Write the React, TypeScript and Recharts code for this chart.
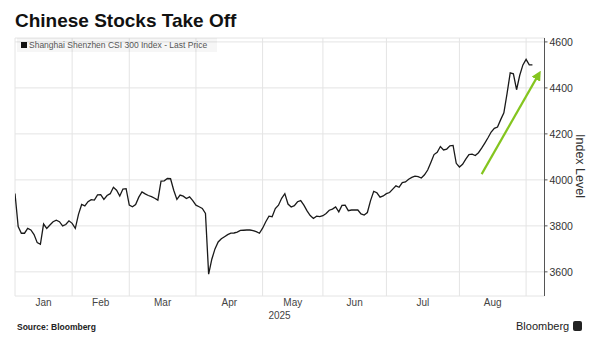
import React from 'react';
import { LineChart, Line, XAxis, YAxis, CartesianGrid, ReferenceLine } from 'recharts';

// CSI 300 daily closes, one per trading day (day 0 = last close of 2024)
const closes: number[] = [
  3941, 3797, 3768, 3768, 3789, 3782, 3762, 3727, 3720, 3808,
  3789, 3804, 3818, 3825, 3818, 3800, 3806, 3822, 3811, 3789,
  3850, 3893, 3887, 3905, 3914, 3912, 3935, 3936, 3915, 3932,
  3940, 3968, 3955, 3930, 3960, 3962, 3890, 3883, 3893, 3925,
  3948, 3939, 3932, 3927, 3920, 3912, 3995, 3996, 4006, 4005,
  3955, 3915, 3934, 3929, 3919, 3926, 3910, 3890, 3883, 3876,
  3854, 3590, 3655, 3700, 3730, 3744, 3753, 3762, 3768, 3769,
  3773, 3780, 3781, 3782, 3782, 3779, 3775, 3768, 3790, 3818,
  3842, 3840, 3875, 3890, 3920, 3940, 3895, 3882, 3888, 3905,
  3910, 3890, 3865, 3845, 3832, 3842, 3840, 3844, 3854, 3868,
  3873, 3882, 3861, 3889, 3890, 3866, 3869, 3869, 3869, 3852,
  3847, 3858, 3910, 3950, 3944, 3925, 3930, 3940, 3945, 3960,
  3974, 3968, 3988, 3991, 4003, 4011, 4016, 4014, 4008, 4022,
  4043, 4076, 4110, 4120, 4145, 4130, 4134, 4148, 4150, 4072,
  4056, 4068, 4090, 4110, 4112, 4106, 4118, 4138, 4160, 4183,
  4208, 4224, 4230, 4262, 4292, 4375, 4465, 4461, 4392, 4455,
  4500, 4524, 4500, 4500,
];

// month start boundaries in trading days
const monthStarts: number[] = [0, 18, 36, 57, 78, 97, 117, 140, 161];
const monthNames: string[] = ['Jan', 'Feb', 'Mar', 'Apr', 'May', 'Jun', 'Jul', 'Aug'];
const yTicks: number[] = [3600, 3800, 4000, 4200, 4400, 4600];

// green trend arrow (trading day, index level)
const arrowDays: number[] = [147, 165];
const arrowLevels: number[] = [4025, 4460];

const data = closes.map((v, i) => ({ day: i, price: v }));
const arrowData = arrowDays.map((d, i) => ({ day: d, lvl: arrowLevels[i] }));
const monthMids = monthNames.map((_, i) => (monthStarts[i] + monthStarts[i + 1]) / 2);
const midToName: Record<string, string> = {};
monthMids.forEach((m, i) => { midToName[String(m)] = monthNames[i]; });

const FONT = '"Liberation Sans", Arial, sans-serif';
const GRID = '#e4e4e4';

export default function App() {
  return (
    <div style={{ position: 'absolute', left: 0, top: 0, width: 600, height: 351, background: '#fff', fontFamily: FONT, overflow: 'hidden' }}>
      <LineChart width={600} height={351} data={data} margin={{ top: 38, right: 15.5, bottom: 25, left: 15 }}>
        <defs>
          <marker id="arrowHead" viewBox="0 0 10 10" refX="6" refY="5" markerWidth="4.5" markerHeight="4.5" orient="auto" markerUnits="strokeWidth">
            <path d="M0,0 L10,5 L0,10 z" fill="#84c51f" />
          </marker>
        </defs>
        <CartesianGrid vertical={false} stroke={GRID} strokeWidth={1} />
        {monthStarts.map((m) => (
          <ReferenceLine key={m} x={m} stroke={GRID} strokeWidth={1} ifOverflow="visible" />
        ))}
        <XAxis
          dataKey="day"
          type="number"
          domain={[0, 166.8]}
          ticks={monthMids}
          interval={0}
          tickFormatter={(v: number) => midToName[String(v)] || ''}
          axisLine={false}
          tickLine={false}
          tickSize={0}
          tickMargin={3}
          height={30}
          tick={{ fontSize: 10, fill: '#444', fontFamily: FONT }}
          allowDataOverflow
        />
        <YAxis
          orientation="right"
          type="number"
          domain={[3495, 4617]}
          ticks={yTicks}
          interval={0}
          width={40}
          axisLine={{ stroke: '#555', strokeWidth: 1 }}
          tickLine={{ stroke: '#555' }}
          tickSize={3}
          tickMargin={2}
          tick={{ fontSize: 10.5, fill: '#333', fontFamily: FONT }}
          allowDataOverflow
        />
        <Line
          type="linear"
          dataKey="price"
          stroke="#1a1a1a"
          strokeWidth={1.3}
          dot={false}
          isAnimationActive={false}
        />
        <Line
          data={arrowData}
          type="linear"
          dataKey="lvl"
          stroke="#84c51f"
          strokeWidth={2.2}
          dot={false}
          markerEnd="url(#arrowHead)"
          isAnimationActive={false}
        />
      </LineChart>

      <div style={{ position: 'absolute', left: 15, top: 9, fontSize: 19, fontWeight: 700, color: '#111', whiteSpace: 'nowrap', lineHeight: '24px' }}>
        Chinese Stocks Take Off
      </div>

      <div style={{ position: 'absolute', left: 17, top: 38, height: 14, width: 200, background: 'rgba(0,0,0,0.035)', display: 'flex', alignItems: 'center' }}>
        <div style={{ width: 6, height: 6, background: '#111', marginLeft: 4, marginRight: 2 }} />
        <span style={{ fontSize: 8.5, color: '#555', whiteSpace: 'nowrap' }}>Shanghai Shenzhen CSI 300 Index - Last Price</span>
      </div>

      <div style={{ position: 'absolute', left: 580, top: 166, width: 0, height: 0 }}>
        <div style={{ position: 'absolute', left: 0, top: 0, transform: 'translate(-50%, -50%) rotate(90deg)', fontSize: 12.5, color: '#333', whiteSpace: 'nowrap' }}>
          Index Level
        </div>
      </div>

      <div style={{ position: 'absolute', left: 279.5, top: 315, transform: 'translate(-50%, -50%)', fontSize: 10, color: '#444', whiteSpace: 'nowrap' }}>
        2025
      </div>

      <div style={{ position: 'absolute', left: 17, top: 322, fontSize: 8.5, fontWeight: 700, color: '#222', whiteSpace: 'nowrap' }}>
        Source: Bloomberg
      </div>

      <div style={{ position: 'absolute', left: 516, top: 320, fontSize: 11, fontWeight: 500, color: '#222', whiteSpace: 'nowrap', display: 'flex', alignItems: 'center' }}>
        <span>Bloomberg</span>
        <span style={{ display: 'inline-block', width: 9, height: 10, background: '#222', borderRadius: 2, marginLeft: 4 }} />
      </div>
    </div>
  );
}
